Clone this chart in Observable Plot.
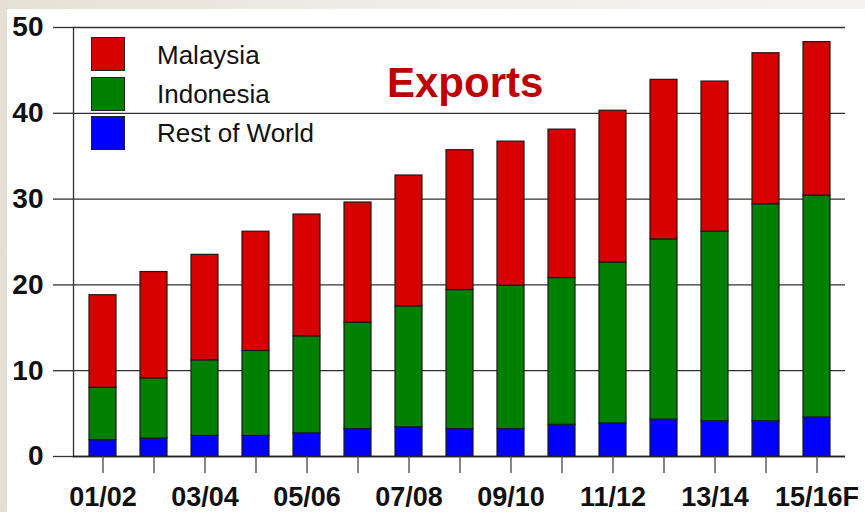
<!DOCTYPE html>
<html>
<head>
<meta charset="utf-8">
<script src="https://cdn.jsdelivr.net/npm/d3@7"></script>
<script src="https://cdn.jsdelivr.net/npm/@observablehq/plot@0.6"></script>
<style>
  html, body { margin: 0; padding: 0; }
  body {
    width: 865px; height: 512px; overflow: hidden; position: relative;
    background: linear-gradient(90deg, #e6e0d4 0%, #efece5 40%, #f5f4f1 100%);
    font-family: "Liberation Sans", Arial, sans-serif;
  }
  #chart { position: absolute; left: 7px; top: 9px; }
  #chart svg { display: block; }
  .title {
    position: absolute; left: 387px; top: 62px; line-height: 1;
    font-size: 42px; font-weight: bold; color: #c00000; white-space: nowrap;
  }
  .lg-sw { position: absolute; left: 91px; width: 32px; height: 32px; border: 1.5px solid #222; }
  .lg-tx { position: absolute; left: 157px; font-size: 26px; line-height: 1; color: #111; white-space: nowrap; }
</style>
</head>
<body>
<div id="chart"></div>
<div class="title">Exports</div>
<div id="legend"></div>
<script>
// ---- data ----
const categories = ["01/02","02/03","03/04","04/05","05/06","06/07","07/08","08/09","09/10","10/11","11/12","12/13","13/14","14/15","15/16F"];
const restOfWorld = [1.9, 2.1, 2.4, 2.4, 2.7, 3.2, 3.4, 3.2, 3.2, 3.7, 3.85, 4.3, 4.1, 4.1, 4.55];
const indonesia   = [6.1, 7.0, 8.8, 9.9, 11.3, 12.4, 14.1, 16.2, 16.7, 17.1, 18.75, 21.0, 22.1, 25.3, 25.85];
const malaysia    = [10.8, 12.4, 12.3, 13.9, 14.2, 14.0, 15.25, 16.3, 16.8, 17.3, 17.7, 18.6, 17.5, 17.6, 17.9];
const seriesNames  = ["Rest of World", "Indonesia", "Malaysia"];
const seriesColors = ["#0000ff", "#008000", "#d70000"];
const legendOrder  = ["Malaysia", "Indonesia", "Rest of World"];
const yTicks  = [0, 10, 20, 30, 40, 50];
const xLabels = ["01/02","03/04","05/06","07/08","09/10","11/12","13/14","15/16F"];
const titleText = "Exports";

// ---- tidy table for the stacked bars ----
const seriesValues = [restOfWorld, indonesia, malaysia];
const rows = [];
seriesNames.forEach((s, si) => {
  categories.forEach((c, i) => rows.push({cat: c, series: s, value: seriesValues[si][i]}));
});

const chart = Plot.plot({
  width: 858,
  height: 503,
  marginLeft: 66,
  marginRight: 20,
  marginTop: 18,
  marginBottom: 56,
  style: {background: "white", fontFamily: "'Liberation Sans', Arial, sans-serif", overflow: "visible"},
  x: {domain: categories, padding: 0, label: null},
  y: {domain: [0, 50], label: null},
  color: {domain: seriesNames, range: seriesColors},
  marks: [
    Plot.gridY(yTicks, {stroke: "#333", strokeOpacity: 1, strokeWidth: 1.3}),
    Plot.barY(rows, {x: "cat", y: "value", fill: "series", stroke: "#1a1a1a", strokeWidth: 1.2, insetLeft: 12, insetRight: 12}),
    Plot.frame({anchor: "left", stroke: "#333", strokeWidth: 1.3}),
    Plot.ruleY([0], {stroke: "#222", strokeWidth: 1.5}),
    Plot.axisY({ticks: yTicks, tickSize: 20, tickPadding: 10, fontSize: 28, fontWeight: "bold", fill: "#111", stroke: "#333", strokeWidth: 1.3, label: null}),
    Plot.axisX({tickSize: 17, tickPadding: 13, fontSize: 27, fontWeight: "bold", fill: "#111", stroke: "#444", strokeWidth: 1.3,
      tickFormat: d => xLabels.includes(d) ? d : "", label: null})
  ]
});
document.getElementById("chart").appendChild(chart);

// ---- legend (inside plot area, top-left) ----
const lg = document.getElementById("legend");
legendOrder.forEach((name, i) => {
  const col = seriesColors[seriesNames.indexOf(name)];
  const sw = document.createElement("div");
  sw.className = "lg-sw";
  sw.style.top = (37 + i * 39.5) + "px";
  sw.style.background = col;
  lg.appendChild(sw);
  const tx = document.createElement("div");
  tx.className = "lg-tx";
  tx.style.top = (42 + i * 39) + "px";
  tx.textContent = name;
  lg.appendChild(tx);
});
document.querySelector(".title").textContent = titleText;
</script>
</body>
</html>
